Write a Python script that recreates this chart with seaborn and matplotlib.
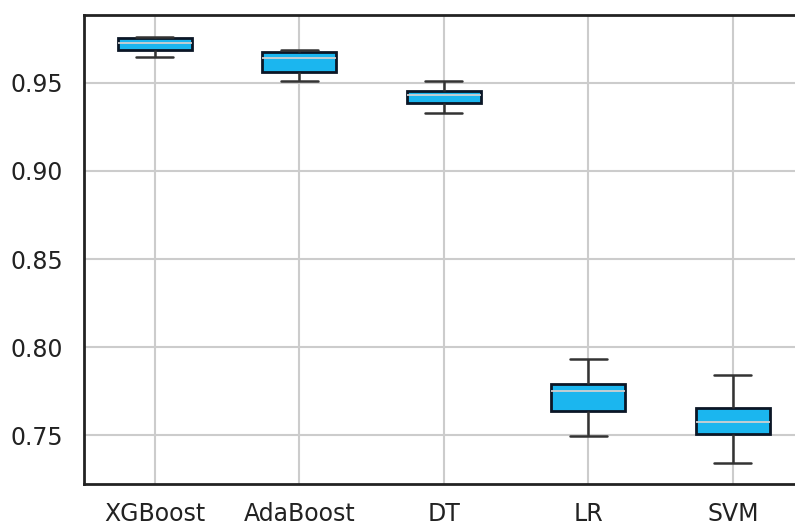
import numpy as np
import pandas as pd
import seaborn as sns
import matplotlib
matplotlib.use("Agg")
import matplotlib.pyplot as plt

models = ["XGBoost", "AdaBoost", "DT", "LR", "SVM"]
# five-number summaries: min, q1, median, q3, max
xgboost_scores = [0.9648, 0.9688, 0.9727, 0.9756, 0.9761]
adaboost_scores = [0.9511, 0.9563, 0.9642, 0.9676, 0.9688]
dt_scores = [0.9331, 0.9385, 0.9430, 0.9456, 0.9510]
lr_scores = [0.7494, 0.7636, 0.7750, 0.7790, 0.7932]
svm_scores = [0.7341, 0.7506, 0.7574, 0.7653, 0.7841]

scores = [xgboost_scores, adaboost_scores, dt_scores, lr_scores, svm_scores]
df = pd.DataFrame({
    "model": np.repeat(models, [len(s) for s in scores]),
    "score": np.concatenate(scores),
})

sns.set_theme(style="whitegrid")
plt.rcParams["font.family"] = ["DejaVu Sans"]

fig = plt.figure(figsize=(7.95, 5.25), dpi=100)
ax = fig.add_axes([84 / 795, 1 - 484 / 525, (805 - 84) / 795, (484 - 15) / 525])

sns.boxplot(
    data=df, x="model", y="score", order=models, ax=ax, width=0.51,
    color="#1bb6ef", saturation=1,
    boxprops=dict(facecolor="#1bb6ef", edgecolor="#0b1626", linewidth=2),
    medianprops=dict(color="#d0d0d0", linewidth=1.3),
    whiskerprops=dict(color="#333333", linewidth=1.8),
    capprops=dict(color="#333333", linewidth=1.8),
    showfliers=False, whis=1.5,
)

ax.set_xlim(-0.49, 4.5)
ax.set_ylim(0.7222, 0.9886)
ax.set_yticks([0.75, 0.80, 0.85, 0.90, 0.95])
ax.set_yticklabels(["0.75", "0.80", "0.85", "0.90", "0.95"])
ax.set_xlabel("")
ax.set_ylabel("")
ax.grid(True, color="#cccccc", linewidth=1.5)
ax.set_axisbelow(True)
for side in ["left", "top", "bottom", "right"]:
    ax.spines[side].set_visible(True)
    ax.spines[side].set_color("#222222")
    ax.spines[side].set_linewidth(2)
ax.tick_params(axis="both", length=0, labelsize=17, colors="#222222")
ax.tick_params(axis="x", pad=13)
ax.tick_params(axis="y", pad=15)

fig.savefig("out.png", dpi=100)
